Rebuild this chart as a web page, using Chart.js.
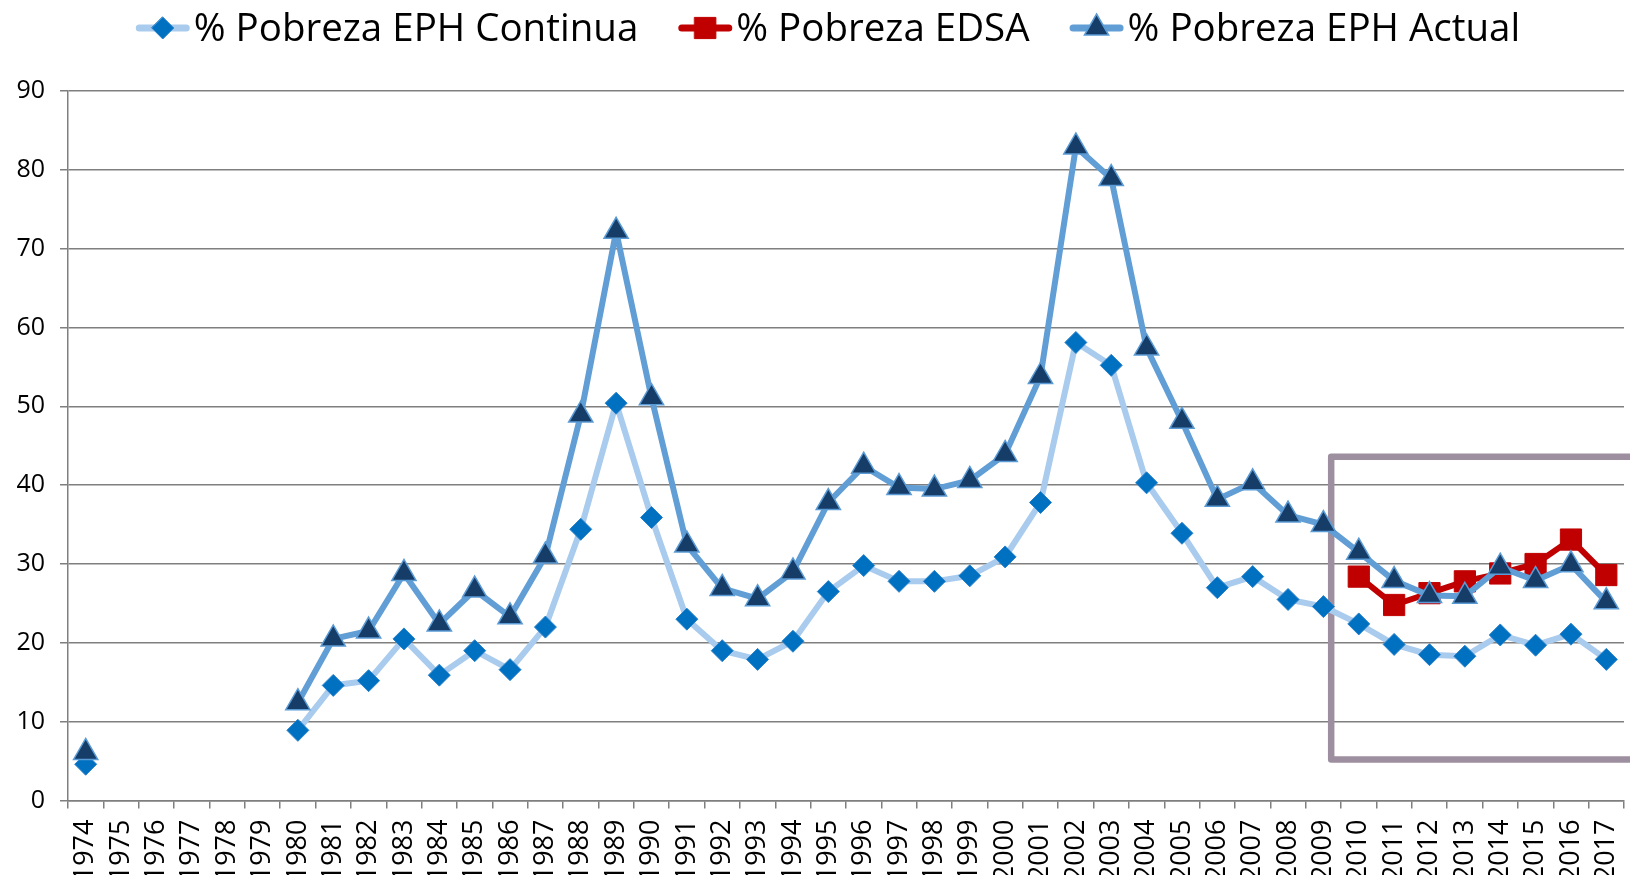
<!DOCTYPE html>
<html>
<head>
<meta charset="utf-8">
<script src="https://cdn.jsdelivr.net/npm/chart.js@4.4.1/dist/chart.umd.min.js"></script>
<style>
    html, body { margin: 0; padding: 0; background: #fff; }
</style>
</head>
<body>
<canvas id="povertyChart" width="1630" height="875"></canvas>
<script>
// Years on the category axis
const years = ['1974', '1975', '1976', '1977', '1978', '1979', '1980', '1981', '1982', '1983',
    '1984', '1985', '1986', '1987', '1988', '1989', '1990', '1991', '1992', '1993',
    '1994', '1995', '1996', '1997', '1998', '1999', '2000', '2001', '2002', '2003',
    '2004', '2005', '2006', '2007', '2008', '2009', '2010', '2011', '2012', '2013',
    '2014', '2015', '2016', '2017'];

// % Pobreza EPH Continua
const pobrezaContinua = [4.6, null, null, null, null, null,
    8.9, 14.6, 15.2, 20.5, 15.9, 19.0, 16.6, 22.0, 34.4, 50.4,
    35.9, 23.0, 19.0, 17.9, 20.2, 26.5, 29.8, 27.8, 27.8, 28.5,
    30.9, 37.8, 58.1, 55.2, 40.3, 33.9, 27.0, 28.4, 25.5, 24.6,
    22.4, 19.8, 18.5, 18.3, 21.0, 19.7, 21.1, 17.9];

// % Pobreza EDSA (only 2010 onwards)
const pobrezaEdsa = [null, null, null, null, null, null,
    null, null, null, null, null, null, null, null, null, null,
    null, null, null, null, null, null, null, null, null, null,
    null, null, null, null, null, null, null, null, null, null,
    28.4, 24.8, 26.3, 27.8, 28.8, 30.0, 33.1, 28.6];

// % Pobreza EPH Actual
const pobrezaActual = [6.1, null, null, null, null, null,
    12.4, 20.5, 21.5, 28.8, 22.4, 26.7, 23.3, 31.0, 48.9, 72.2,
    51.1, 32.4, 26.9, 25.6, 29.0, 37.8, 42.4, 39.7, 39.5, 40.6,
    43.9, 53.8, 82.9, 78.9, 57.4, 48.1, 38.2, 40.3, 36.2, 35.0,
    31.5, 27.9, 26.0, 25.9, 29.6, 27.9, 29.9, 25.2];

const FONT = '"Open Sans", "DejaVu Sans", sans-serif';
const GRID = '#7f7f7f';

// small helper, the legend needs the same markers as the chart
function drawMarker(ctx, style, x, y, r, fill, stroke, bw) {
    ctx.beginPath();
    if (style === 'rectRot') {
        ctx.moveTo(x, y - r); ctx.lineTo(x + r, y); ctx.lineTo(x, y + r); ctx.lineTo(x - r, y);
    } else if (style === 'triangle') {
        const h = r * Math.sqrt(3) / 2;
        ctx.moveTo(x, y - r); ctx.lineTo(x + h, y + r / 2); ctx.lineTo(x - h, y + r / 2);
    } else {
        const s = r * Math.SQRT1_2;
        ctx.rect(x - s, y - s, 2 * s, 2 * s);
    }
    ctx.closePath();
    ctx.fillStyle = fill;
    ctx.fill();
    if (bw > 0) {
        ctx.lineWidth = bw;
        ctx.strokeStyle = stroke;
        ctx.stroke();
    }
}

// Legend drawn as line + marker, like the spreadsheet original
const lineLegend = {
    id: 'lineLegend',
    afterDraw(chart, args, opts) {
        const ctx = chart.ctx;
        ctx.save();
        ctx.font = opts.font;
        ctx.textBaseline = 'alphabetic';
        const items = chart.data.datasets.map(ds => ({ ds, w: ctx.measureText(ds.label).width }));
        const total = items.reduce((s, it) => s + opts.markerWidth + opts.markerGap + it.w, 0)
            + opts.itemGap * (items.length - 1);
        let x = opts.centerX - total / 2;
        items.forEach(({ ds, w }) => {
            ctx.strokeStyle = ds.borderColor;
            ctx.lineWidth = opts.lineWidth;
            ctx.lineCap = 'round';
            ctx.beginPath();
            ctx.moveTo(x + opts.lineWidth / 2, opts.markerY);
            ctx.lineTo(x + opts.markerWidth - opts.lineWidth / 2, opts.markerY);
            ctx.stroke();
            drawMarker(ctx, ds.pointStyle, x + opts.markerWidth / 2, opts.markerY,
                ds.pointRadius, ds.pointBackgroundColor, ds.pointBorderColor, ds.pointBorderWidth);
            x += opts.markerWidth + opts.markerGap;
            ctx.fillStyle = '#000';
            ctx.fillText(ds.label, x, opts.textY);
            x += w + opts.itemGap;
        });
        ctx.restore();
    }
};

// Grey frame around the 2010-2017 period
const highlightBox = {
    id: 'highlightBox',
    beforeDatasetsDraw(chart, args, opts) {
        const { ctx, scales: { x, y } } = chart;
        const left = x.getPixelForValue(opts.fromIndex);
        const top = y.getPixelForValue(opts.top);
        const bottom = y.getPixelForValue(opts.bottom);
        ctx.save();
        ctx.strokeStyle = opts.color;
        ctx.lineWidth = opts.lineWidth;
        ctx.lineJoin = 'round';
        ctx.beginPath();
        ctx.moveTo(chart.width + 20, top);
        ctx.lineTo(left, top);
        ctx.lineTo(left, bottom);
        ctx.lineTo(chart.width + 20, bottom);
        ctx.stroke();
        ctx.restore();
    }
};

new Chart(document.getElementById('povertyChart'), {
    type: 'line',
    data: {
        labels: years,
        datasets: [
            {
                label: '% Pobreza EPH Continua',
                data: pobrezaContinua,
                borderColor: '#a9cbed',
                borderWidth: 6,
                pointStyle: 'rectRot',
                pointRadius: 11,
                pointBackgroundColor: '#0070c0',
                pointBorderColor: '#2a82cc',
                pointBorderWidth: 1,
                order: 2
            },
            {
                label: '% Pobreza EDSA',
                data: pobrezaEdsa,
                borderColor: '#c00000',
                borderWidth: 6,
                pointStyle: 'rect',
                pointRadius: 15,
                pointBackgroundColor: '#c00000',
                pointBorderColor: '#c00000',
                pointBorderWidth: 1,
                order: 3
            },
            {
                label: '% Pobreza EPH Actual',
                data: pobrezaActual,
                borderColor: '#619ed5',
                borderWidth: 6,
                pointStyle: 'triangle',
                pointRadius: 14,
                pointBackgroundColor: '#163c68',
                pointBorderColor: '#5b9bd5',
                pointBorderWidth: 1.5,
                order: 1
            }
        ]
    },
    options: {
        responsive: false,
        animation: false,
        devicePixelRatio: 1,
        // markers may overflow the plot, like in the original
        layout: { autoPadding: false, padding: { top: 91, left: 0, right: 6, bottom: 0 } },
        elements: { line: { tension: 0 } },
        scales: {
            x: {
                offset: true,
                afterFit: scale => {
                    scale.height = 74.5;
                    // rotated labels fit fine, don't let them shrink the plot
                    scale.getPadding = () => ({ left: 0, top: 0, right: 0, bottom: 0 });
                },
                grid: { offset: true, drawOnChartArea: false, tickLength: 8, color: GRID, lineWidth: 1.5 },
                border: { color: GRID, width: 1.5 },
                ticks: {
                    autoSkip: false,
                    minRotation: 90,
                    maxRotation: 90,
                    padding: 11,
                    color: '#000',
                    font: { family: FONT, size: 27 }
                }
            },
            y: {
                min: 0,
                max: 90,
                afterFit: scale => { scale.width = 68; },
                grid: { color: GRID, lineWidth: 1.5, tickLength: 8 },
                border: { color: GRID, width: 1.5 },
                ticks: {
                    stepSize: 10,
                    padding: 15,
                    color: '#000',
                    font: { family: FONT, size: 25 }
                }
            }
        },
        plugins: {
            legend: { display: false },
            tooltip: { enabled: false },
            lineLegend: {
                font: '38.5px ' + FONT,
                centerX: 828,
                markerY: 28,
                textY: 41,
                markerWidth: 54,
                markerGap: 4,
                itemGap: 40,
                lineWidth: 7
            },
            highlightBox: {
                fromIndex: 35.22,
                top: 43.6,
                bottom: 5.2,
                color: '#9d8f9f',
                lineWidth: 6.5
            }
        }
    },
    plugins: [highlightBox, lineLegend]
});
</script>
</body>
</html>
